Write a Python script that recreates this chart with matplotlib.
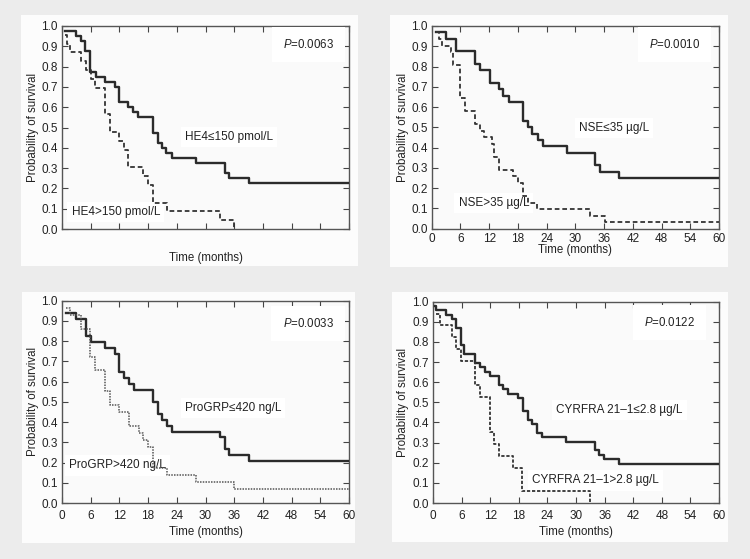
import matplotlib
matplotlib.use('Agg')
import matplotlib.pyplot as plt
from matplotlib.patches import Rectangle

plt.rcParams['font.family'] = ['Liberation Sans', 'DejaVu Sans']
plt.rcParams['mathtext.fontset'] = 'custom'
plt.rcParams['mathtext.it'] = 'Liberation Sans:italic'
plt.rcParams['mathtext.rm'] = 'Liberation Sans'

# --- data (time in months, survival) ---
he4_low_t = [0.7, 3.0, 3.9, 4.9, 5.9, 7.1, 9.0, 11.0, 12.0, 13.8, 14.9, 15.9, 19.0, 20.0, 21.0, 21.8, 22.9, 28.1, 34.0, 34.9, 39.1]
he4_low_s = [0.975, 0.95, 0.925, 0.875, 0.775, 0.75, 0.725, 0.70, 0.625, 0.60, 0.575, 0.55, 0.475, 0.425, 0.40, 0.375, 0.35, 0.325, 0.275, 0.25, 0.225]
he4_high_t = [0.7, 1.0, 1.6, 4.0, 5.0, 6.0, 6.9, 9.0, 10.0, 12.0, 13.0, 13.8, 17.0, 18.0, 19.0, 22.0, 33.0, 36.0]
he4_high_s = [0.957, 0.913, 0.870, 0.826, 0.783, 0.739, 0.696, 0.565, 0.478, 0.435, 0.391, 0.304, 0.261, 0.217, 0.130, 0.087, 0.043, 0.0]

nse_low_t = [0.9, 3.0, 5.1, 9.0, 10.1, 12.1, 14.0, 14.8, 16.1, 19.1, 20.1, 20.9, 22.1, 23.2, 28.2, 34.0, 35.1, 39.2]
nse_low_s = [0.969, 0.938, 0.875, 0.812, 0.781, 0.719, 0.688, 0.656, 0.625, 0.531, 0.50, 0.469, 0.438, 0.406, 0.375, 0.312, 0.281, 0.25]
nse_high_t = [0.9, 1.5, 2.2, 4.0, 4.4, 6.0, 7.0, 9.0, 10.0, 11.0, 12.5, 13.0, 14.0, 17.0, 18.0, 19.0, 20.2, 22.0, 33.0, 36.2]
nse_high_s = [0.968, 0.935, 0.903, 0.871, 0.806, 0.645, 0.581, 0.516, 0.484, 0.452, 0.419, 0.355, 0.290, 0.258, 0.226, 0.161, 0.129, 0.097, 0.065, 0.032]

grp_low_t = [0.8, 3.0, 5.0, 6.0, 9.0, 11.0, 12.0, 13.0, 14.0, 15.0, 19.0, 20.0, 21.0, 22.0, 23.0, 33.0, 34.0, 35.0, 39.0]
grp_low_s = [0.941, 0.912, 0.824, 0.794, 0.765, 0.735, 0.647, 0.618, 0.588, 0.559, 0.50, 0.441, 0.412, 0.382, 0.353, 0.324, 0.265, 0.235, 0.206]
grp_high_t = [0.8, 1.7, 3.9, 5.9, 7.0, 9.0, 10.0, 12.0, 14.0, 16.0, 17.0, 18.0, 19.0, 22.0, 28.0, 36.0]
grp_high_s = [0.966, 0.931, 0.862, 0.724, 0.655, 0.552, 0.483, 0.448, 0.379, 0.345, 0.310, 0.276, 0.172, 0.138, 0.103, 0.069]

cyf_low_t = [0.5, 0.7, 2.7, 3.9, 4.8, 5.8, 6.5, 8.8, 9.8, 10.9, 11.9, 13.8, 14.7, 15.8, 17.9, 18.9, 20.0, 20.8, 21.8, 22.8, 28.0, 34.0, 34.8, 35.9, 39.1]
cyf_low_s = [0.978, 0.957, 0.935, 0.913, 0.870, 0.783, 0.739, 0.696, 0.674, 0.652, 0.630, 0.587, 0.565, 0.543, 0.522, 0.457, 0.413, 0.391, 0.348, 0.326, 0.304, 0.261, 0.239, 0.217, 0.196]
cyf_high_t = [0.6, 1.4, 3.9, 4.8, 5.8, 8.8, 9.8, 11.9, 12.8, 13.8, 16.8, 18.7, 33.0]
cyf_high_s = [0.941, 0.882, 0.824, 0.765, 0.706, 0.588, 0.529, 0.353, 0.294, 0.235, 0.176, 0.059, 0.0]

p_values = ['0.0063', '0.0010', '0.0033', '0.0122']
low_labels = ['HE4≤150 pmol/L', 'NSE≤35 µg/L', 'ProGRP≤420 ng/L', 'CYRFRA 21–1≤2.8 µg/L']
high_labels = ['HE4>150 pmol/L', 'NSE>35 µg/L', 'ProGRP>420 ng/L', 'CYRFRA 21–1>2.8 µg/L']

W, H = 750, 559
fig = plt.figure(figsize=(7.5, 5.59), dpi=100)
fig.patch.set_facecolor('#ececec')


def fx(x):
    return x / W


def fy(y):
    return 1 - y / H


# white panel cards behind each chart (pixel boxes)
for (x0, y0, x1, y1) in [(21, 15, 358, 266), (390, 15, 728, 267), (22, 292, 355, 543), (392, 292, 728, 542)]:
    fig.patches.append(Rectangle((fx(x0), fy(y1)), (x1 - x0) / W, (y1 - y0) / H,
                                 transform=fig.transFigure, facecolor='#fcfcfc', edgecolor='none', zorder=-5))

# axes boxes in pixels: left, top, right, bottom
axes_px = [(62, 26, 349, 229), (431.7, 26, 719, 228.7), (62, 300.7, 349, 503), (433, 301.7, 719, 503)]
ylab_x = [33, 403, 33, 403]
xlab_y = [258, 250.5, 532, 532]
xtick_pad = [3, 3, 5, 5]

curves = [(he4_low_t, he4_low_s, he4_high_t, he4_high_s),
          (nse_low_t, nse_low_s, nse_high_t, nse_high_s),
          (grp_low_t, grp_low_s, grp_high_t, grp_high_s),
          (cyf_low_t, cyf_low_s, cyf_high_t, cyf_high_s)]

high_style = [dict(lw=1.3, dashes=(2.6, 1.6), color='#333333'),
              dict(lw=1.3, dashes=(2.6, 1.6), color='#333333'),
              dict(lw=1.1, dashes=(1.0, 0.8), color='#555555'),
              dict(lw=1.3, dashes=(1.8, 1.0), color='#333333')]

p_pos = [(46.2, 0.91), (45.4, 0.91), (46.1, 0.888), (44.3, 0.898)]
low_pos = [(25.7, 0.455), (30.8, 0.495), (25.7, 0.469), (25.9, 0.463)]
high_pos = [(2.0, 0.085), (5.6, 0.125), (1.5, 0.186), (20.7, 0.112)]

for i in range(4):
    l, t, r, b = axes_px[i]
    ax = fig.add_axes([fx(l), fy(b), (r - l) / W, (b - t) / H])
    ax.set_facecolor('#fafafa')
    lt, ls, ht, hs = curves[i]

    # solid curve: continue to end of follow-up
    ax.step(lt + [60], ls + [ls[-1]], where='post', color='#2b2b2b', lw=1.7, zorder=3)
    if hs[-1] > 0:
        ax.step(ht + [60], hs + [hs[-1]], where='post', zorder=3, **high_style[i])
    else:
        ax.step(ht, hs, where='post', zorder=3, **high_style[i])

    ax.set_xlim(0, 60)
    ax.set_ylim(0, 1.0)
    ax.set_xticks(range(0, 61, 6))
    ax.set_yticks([k / 10 for k in range(11)])
    ax.set_yticklabels(['%.1f' % (k / 10) for k in range(11)])
    if i == 0:
        ax.set_xticklabels([])
    ax.tick_params(direction='in', length=4, width=0.8, top=True, right=True,
                   labelsize=8.5, colors='#444444', labelcolor='#222222')
    ax.tick_params(axis='y', pad=3)
    ax.tick_params(axis='x', pad=xtick_pad[i])
    for sp in ax.spines.values():
        sp.set_color('#555555')
        sp.set_linewidth(1.0)

    box = dict(facecolor='white', edgecolor='none', pad=3)
    ax.text(p_pos[i][0], p_pos[i][1], r'$\it{P}$=' + p_values[i], fontsize=8.3,
            va='center', ha='left', color='#222222', bbox=dict(facecolor='white', edgecolor='none', pad=8), zorder=4)
    ax.text(low_pos[i][0], low_pos[i][1], low_labels[i], fontsize=8.5,
            va='center', ha='left', color='#222222', bbox=box, zorder=4)
    ax.text(high_pos[i][0], high_pos[i][1], high_labels[i], fontsize=8.5,
            va='center', ha='left', color='#222222', bbox=box, zorder=2)

    fig.text(fx(ylab_x[i]), fy((t + b) / 2), 'Probability of survival', rotation=90,
             ha='center', va='center', fontsize=8.3, color='#222222')
    fig.text(fx((l + r) / 2), fy(xlab_y[i]), 'Time (months)',
             ha='center', va='center', fontsize=8.3, color='#222222')

plt.savefig('out.png', dpi=100, facecolor=fig.get_facecolor())
